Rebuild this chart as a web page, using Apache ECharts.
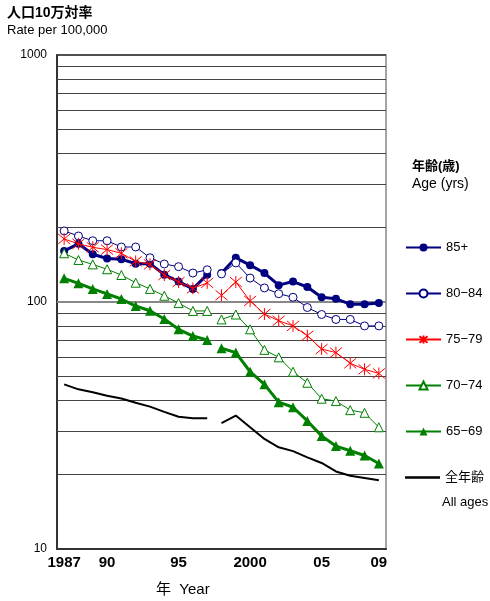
<!DOCTYPE html>
<html>
<head>
<meta charset="utf-8">
<script src="https://cdn.jsdelivr.net/npm/echarts@6/dist/echarts.min.js"></script>
<style>html,body{margin:0;padding:0;background:#fff;}#c{width:490px;height:601px;}</style>
</head>
<body>
<div id="c"></div>
<script>
// ---- data ----
const years = ['1987','1988','1989','1990','1991','1992','1993','1994','1995','1996','1997','1998','1999','2000','2001','2002','2003','2004','2005','2006','2007','2008','2009'];
const xTickLabels = {'1987':'1987','1990':'90','1995':'95','2000':'2000','2005':'05','2009':'09'};
const yTickLabels = [10, 100, 1000];
const gridValues = [20,30,40,50,60,70,80,90,200,300,400,500,600,700,800,900];
const breakIndex = 11; // line break between 1997 and 1998

const age85 = [161,172,156,150,149,143,143,129,121,113,129,131,151,141,131,117,121,115,104.5,103,98,98,99];
const age80 = [194,185,177,177,167,167,151,142.5,139,131,135,130,144,125,114,108,104.5,95,89,85,85,80,80];
const age75 = [180,172,166.5,163,157.5,146,142,128.6,120.5,113.6,119.5,106.5,120.5,101,89.4,84,80,73,64.5,62.4,56.5,53.4,51.4];
const age70 = [157.5,148,142,135.7,128.6,119.7,113,106,99,92,92,85,89,77.5,64,59.7,52.2,47.1,40.6,39.7,36.5,35.6,31.1];
const age65 = [124.7,119,113,107.8,102.8,96.3,92.2,85.3,77.5,72.8,70.2,65,62.4,52.2,46.4,39.3,37.5,33,28.7,26.1,25,23.9,22.2];
const allAges = [46.4,44.3,43.1,41.7,40.7,39.1,37.7,35.9,34.3,33.8,33.8,32.3,34.7,31.1,27.9,25.8,24.9,23.5,22.3,20.6,19.8,19.4,19.0];

const names = ['85+','80−84','75−79','70−74','65−69','全年齢'];

const FONT = '"Liberation Sans", Arial, "Noto Sans CJK JP", sans-serif';
const STAR = 'path://M0,0L10,10M10,0L0,10M5,-1L5,11';

const styles = [
  {data: age85, line: {color:'#000080', width:3}, symbol:'circle', size:8, item:{color:'#000080'}},
  {data: age80, line: {color:'#000080', width:1}, symbol:'circle', size:8, item:{color:'#fff', borderColor:'#000080', borderWidth:1}},
  {data: age75, line: {color:'#ff0000', width:1}, symbol:STAR, size:12, item:{color:'#ff0000', borderColor:'#ff0000', borderWidth:1}},
  {data: age70, line: {color:'#008000', width:1}, symbol:'triangle', size:9, item:{color:'#fff', borderColor:'#008000', borderWidth:1}},
  {data: age65, line: {color:'#008000', width:3}, symbol:'triangle', size:10, item:{color:'#008000'}},
  {data: allAges, line: {color:'#000', width:2}, symbol:'none', size:0, item:{color:'#000'}}
];

function part(arr, first) {
  return arr.map((v, i) => (first ? (i < breakIndex ? v : null) : (i >= breakIndex ? v : null)));
}

const series = [];
const gl = gridValues.map(v => ({yAxis: v, lineStyle: {color: '#444', width: 1, type: 'solid'}}));
gl.push({yAxis: 100, lineStyle: {color: '#888', width: 2, type: 'solid'}});
gl.push({yAxis: 1000, lineStyle: {color: '#333', width: 1.5, type: 'solid'}});
series.push({
  type: 'line', name: 'grid', data: years.map(() => null), z: 1, silent: true,
  markLine: {silent: true, symbol: ['none','none'], label: {show: false}, animation: false, data: gl}
});
styles.forEach((s, idx) => {
  [true, false].forEach(first => {
    series.push({
      type: 'line', name: names[idx], data: part(s.data, first),
      z: 10 + idx, connectNulls: false,
      symbol: s.symbol, symbolSize: s.size, showSymbol: s.symbol !== 'none', showAllSymbol: true,
      lineStyle: s.line, itemStyle: s.item, color: s.line.color,
      emphasis: {disabled: true}
    });
  });
});

const legendText = {fontSize: 13, color: '#000', fontFamily: FONT};
const chart = echarts.init(document.getElementById('c'), null, {renderer: 'canvas'});
chart.setOption({
  animation: false,
  backgroundColor: '#fff',
  textStyle: {fontFamily: FONT},
  grid: {left: 57, right: 104, top: 55, bottom: 52, show: true, borderColor: '#888', borderWidth: 1.5, backgroundColor: 'transparent'},
  xAxis: {
    type: 'category', data: years, boundaryGap: true,
    axisLine: {lineStyle: {color: '#333', width: 2}},
    axisTick: {inside: true, length: 5, interval: 0, lineStyle: {color: '#333', width: 1}},
    axisLabel: {
      interval: (i, v) => xTickLabels[v] !== undefined,
      formatter: v => xTickLabels[v] || '',
      fontSize: 15, fontWeight: 'bold', color: '#000', margin: 6, fontFamily: FONT
    },
    splitLine: {show: false}
  },
  yAxis: {
    type: 'log', logBase: 10, min: 10, max: 1000,
    axisLine: {show: true, lineStyle: {color: '#333', width: 2}},
    axisTick: {show: false},
    axisLabel: {
      formatter: v => (yTickLabels.indexOf(Math.round(v)) >= 0 ? String(Math.round(v)) : ''),
      fontSize: 12, color: '#000', margin: 10, fontFamily: FONT
    },
    splitLine: {show: false}
  },
  legend: [
    {
      data: names.slice(0, 5), orient: 'vertical', left: 405, top: 241, padding: 0,
      itemWidth: 35, itemHeight: 10, itemGap: 33,
      textStyle: legendText, selectedMode: false
    },
    {
      data: [{name: names[5], icon: 'rect'}], orient: 'vertical', left: 405, top: 471, padding: 0,
      itemWidth: 35, itemHeight: 2.5, textStyle: legendText, selectedMode: false
    }
  ],
  graphic: [
    {type: 'text', left: 7, top: 6, style: {text: '人口10万対率', font: 'bold 14px ' + FONT, fill: '#000'}},
    {type: 'text', left: 7, top: 24, style: {text: 'Rate per 100,000', font: '13px ' + FONT, fill: '#000'}},
    {type: 'text', left: 412, top: 160, style: {text: '年齢(歳)', font: 'bold 13px ' + FONT, fill: '#000'}},
    {type: 'text', left: 412, top: 177, style: {text: 'Age (yrs)', font: '14px ' + FONT, fill: '#000'}},
    {type: 'text', left: 442, top: 496, style: {text: 'All ages', font: '13px ' + FONT, fill: '#000'}},
    {type: 'text', left: 156, top: 582, style: {text: '年  Year', font: '15px ' + FONT, fill: '#000'}}
  ],
  series: series
});
</script>
</body>
</html>
